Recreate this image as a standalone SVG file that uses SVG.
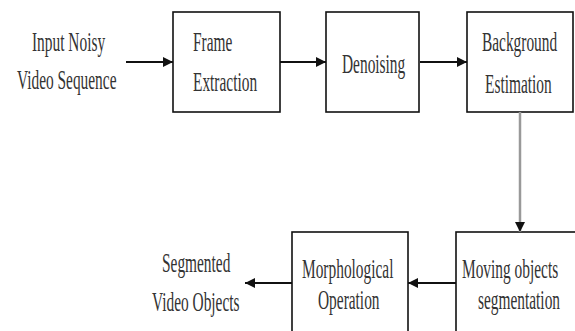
<svg xmlns="http://www.w3.org/2000/svg" width="575" height="331" viewBox="0 0 575 331">
<style>
.box{fill:#fff;stroke:#111;stroke-width:1.6}
.lbl{font-family:"Liberation Serif","Times New Roman",serif;font-size:27px;fill:#333}
.ln{stroke:#111;stroke-width:2;fill:none}
.gl{stroke:#999;stroke-width:2.5;fill:none}
</style>
<defs>
<marker id="ah" viewBox="0 0 10 10" refX="10" refY="5" markerWidth="10" markerHeight="10" markerUnits="userSpaceOnUse" orient="auto">
<path d="M0,0 L10,5 L0,10 Z" fill="#111"/>
</marker>
</defs>
<rect width="575" height="331" fill="#fff"/>
<g id="input">
<text class="lbl" transform="translate(32,51) scale(0.57,1)">Input Noisy</text>
<text class="lbl" transform="translate(17,89) scale(0.57,1)">Video Sequence</text>
</g>
<g id="frame">
<rect class="box" x="173" y="12" width="107" height="100"/>
<text class="lbl" transform="translate(193,51) scale(0.57,1)">Frame</text>
<text class="lbl" transform="translate(193,91) scale(0.57,1)">Extraction</text>
</g>
<g id="denoising">
<rect class="box" x="326" y="12" width="93" height="100"/>
<text class="lbl" transform="translate(342,73) scale(0.57,1)">Denoising</text>
</g>
<g id="background">
<rect class="box" x="467" y="12" width="106" height="100"/>
<text class="lbl" transform="translate(482,51) scale(0.57,1)">Background</text>
<text class="lbl" transform="translate(485,93) scale(0.57,1)">Estimation</text>
</g>
<g id="moving">
<rect class="box" x="456" y="232" width="130" height="110"/>
<text class="lbl" transform="translate(462,278) scale(0.57,1)">Moving objects</text>
<text class="lbl" transform="translate(478,309) scale(0.57,1)">segmentation</text>
</g>
<g id="morph">
<rect class="box" x="292" y="232" width="116" height="110"/>
<text class="lbl" transform="translate(302,278) scale(0.57,1)">Morphological</text>
<text class="lbl" transform="translate(318,309) scale(0.57,1)">Operation</text>
</g>
<g id="output">
<text class="lbl" transform="translate(162,272) scale(0.57,1)">Segmented</text>
<text class="lbl" transform="translate(152,311) scale(0.57,1)">Video Objects</text>
</g>
<g id="connectors">
<line class="ln" x1="126" y1="62" x2="173" y2="62" marker-end="url(#ah)"/>
<line class="ln" x1="280" y1="62" x2="326" y2="62" marker-end="url(#ah)"/>
<line class="ln" x1="420" y1="62" x2="467" y2="62" marker-end="url(#ah)"/>
<line class="gl" x1="520" y1="112" x2="520" y2="232" marker-end="url(#ah)"/>
<line class="ln" x1="456" y1="283" x2="408" y2="283" marker-end="url(#ah)"/>
<line class="ln" x1="292" y1="283" x2="245" y2="283" marker-end="url(#ah)"/>
</g>
</svg>
